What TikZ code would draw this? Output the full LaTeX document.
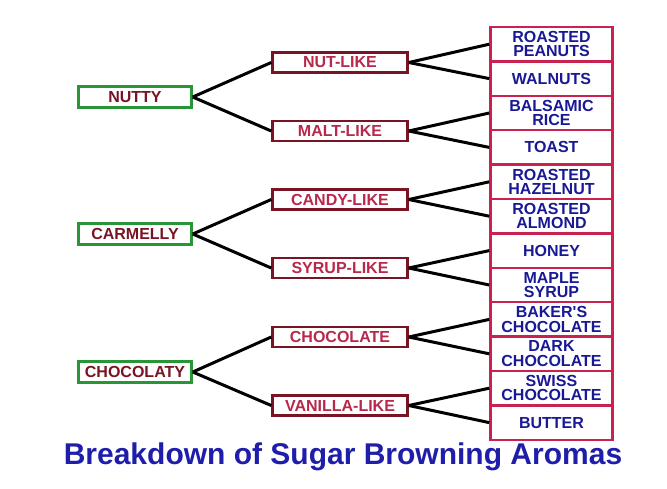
\documentclass[tikz,border=0pt]{standalone}
\usepackage{fontspec}
\setmainfont{Liberation Sans}[Ligatures=TeXOff]
\usepackage{xcolor}
\usetikzlibrary{positioning}

\definecolor{rootborder}{RGB}{40,150,55}
\definecolor{roottext}{RGB}{120,20,35}
\definecolor{midborder}{RGB}{120,20,35}
\definecolor{midtext}{RGB}{185,40,75}
\definecolor{leafborder}{RGB}{200,35,80}
\definecolor{leaftext}{RGB}{25,25,150}
\definecolor{titletext}{RGB}{30,30,170}

\begin{document}
\begin{tikzpicture}[
    x=1pt,y=-1pt,
    font=\bfseries\fontsize{16}{14.5}\selectfont,
    root/.style={
        draw=rootborder,
        text=roottext,
        line width=2.5pt,
        minimum width=113pt,
        minimum height=21pt,
        inner sep=0pt
    },
    mid/.style={
        draw=midborder,
        text=midtext,
        line width=2.5pt,
        minimum width=135pt,
        minimum height=20pt,
        inner sep=0pt
    },
    leaf/.style={
        draw=leafborder,
        text=leaftext,
        line width=2.5pt,
        minimum width=122pt,
        minimum height=34.4pt,
        inner sep=0pt,
        align=center
    },
    link/.style={draw=black, line width=3pt}
]

\fill[white] (0,0) rectangle (667,488);
\useasboundingbox (0,0) rectangle (667,488);

% aromas
\node[leaf] (peanuts)  at (551.5,44.2)  {ROASTED\\PEANUTS};
\node[leaf] (walnuts)  at (551.5,78.6)  {WALNUTS};
\node[leaf] (balsamic) at (551.5,113.0) {BALSAMIC\\RICE};
\node[leaf] (toast)    at (551.5,147.4) {TOAST};
\node[leaf] (hazelnut) at (551.5,181.8) {ROASTED\\HAZELNUT};
\node[leaf] (almond)   at (551.5,216.2) {ROASTED\\ALMOND};
\node[leaf] (honey)    at (551.5,250.6) {HONEY};
\node[leaf] (maple)    at (551.5,285.0) {MAPLE\\SYRUP};
\node[leaf] (bakers)   at (551.5,319.4) {BAKER'S\\CHOCOLATE};
\node[leaf] (dark)     at (551.5,353.8) {DARK\\CHOCOLATE};
\node[leaf] (swiss)    at (551.5,388.2) {SWISS\\CHOCOLATE};
\node[leaf] (butter)   at (551.5,422.6) {BUTTER};

% families
\node[mid] (nutlike)   at (340,62.5)  {NUT-LIKE};
\node[mid] (maltlike)  at (340,131)   {MALT-LIKE};
\node[mid] (candy)     at (340,199.5) {CANDY-LIKE};
\node[mid] (syrup)     at (340,268)   {SYRUP-LIKE};
\node[mid] (chocolate) at (340,337)   {CHOCOLATE};
\node[mid] (vanilla)   at (340,405.5) {VANILLA-LIKE};

% groups
\node[root] (nutty)     at (135,97)  {NUTTY};
\node[root] (carmelly)  at (135,234) {CARMELLY};
\node[root] (chocolaty) at (135,372) {CHOCOLATY};

\draw[link] (nutty.east) -- (nutlike.west);
\draw[link] (nutty.east) -- (maltlike.west);
\draw[link] (carmelly.east) -- (candy.west);
\draw[link] (carmelly.east) -- (syrup.west);
\draw[link] (chocolaty.east) -- (chocolate.west);
\draw[link] (chocolaty.east) -- (vanilla.west);

\draw[link] (nutlike.east) -- (peanuts.west);
\draw[link] (nutlike.east) -- (walnuts.west);
\draw[link] (maltlike.east) -- (balsamic.west);
\draw[link] (maltlike.east) -- (toast.west);
\draw[link] (candy.east) -- (hazelnut.west);
\draw[link] (candy.east) -- (almond.west);
\draw[link] (syrup.east) -- (honey.west);
\draw[link] (syrup.east) -- (maple.west);
\draw[link] (chocolate.east) -- (bakers.west);
\draw[link] (chocolate.east) -- (dark.west);
\draw[link] (vanilla.east) -- (swiss.west);
\draw[link] (vanilla.east) -- (butter.west);

\node[text=titletext, font=\bfseries\fontsize{30}{36}\selectfont] (title) at (343,457) {Breakdown of Sugar Browning Aromas};

\end{tikzpicture}
\end{document}
